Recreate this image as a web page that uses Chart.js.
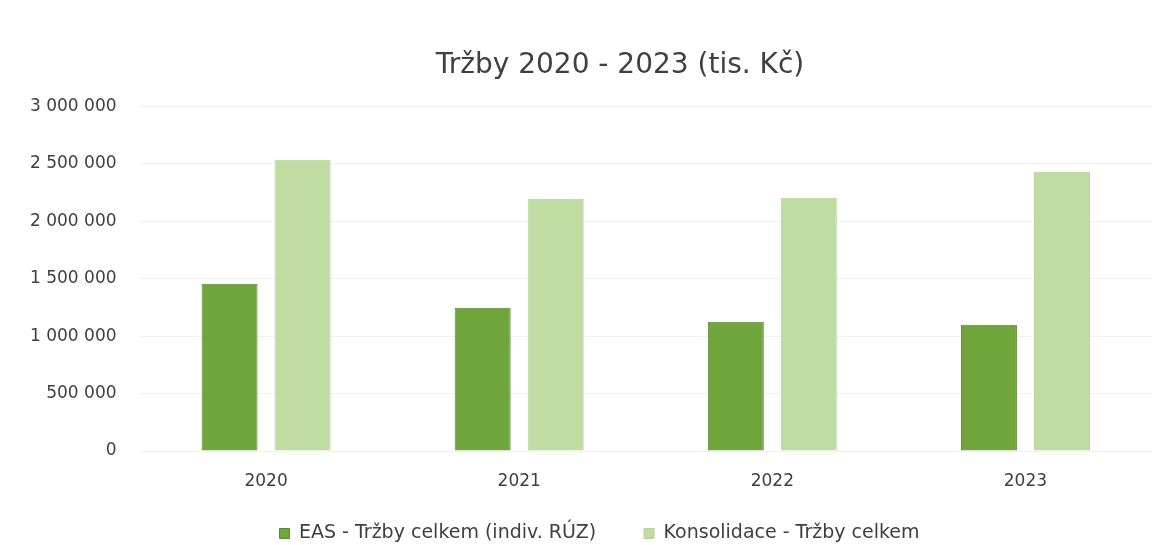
<!DOCTYPE html>
<html>
<head>
<meta charset="utf-8">
<script src="https://cdn.jsdelivr.net/npm/chart.js@4"></script>
<style>
  html, body { margin: 0; padding: 0; background: #fff; }
  #wrap { width: 1169px; height: 545px; }
</style>
</head>
<body>
<div id="wrap"><canvas id="chart" width="1169" height="545"></canvas></div>
<script>
const years = ['2020', '2021', '2022', '2023'];
const easRevenue = [1456000, 1247000, 1125000, 1099000];
const consolidatedRevenue = [2538000, 2198000, 2206000, 2433000];
const seriesNames = ['EAS - Tržby celkem (indiv. RÚZ)', 'Konsolidace - Tržby celkem'];

// thousands with plain spaces, like the original axis
const fmt = v => String(v).replace(/\B(?=(\d{3})+(?!\d))/g, ' ');
const font = 'DejaVu Sans';

// title and legend sit a bit right of the canvas centre; the legend keeps a wide
// gap between items but only a thin strip of height near the bottom edge
const nudge = {
    id: 'nudge',
    beforeInit(chart) {
        const legend = chart.legend;
        const fit = legend.fit;
        legend.fit = function () {
            fit.call(this);
            this.height -= 31;
        };
    },
    afterLayout(chart) {
        chart.titleBlock.left += 81;
        chart.legend.left += 40;
        chart.legend.top -= 23;
    }
};

new Chart(document.getElementById('chart'), {
    type: 'bar',
    data: {
        labels: years,
        datasets: [
            {
                label: seriesNames[0],
                data: easRevenue,
                backgroundColor: '#70a53c',
                borderColor: '#5a8730',
                borderWidth: 1
            },
            {
                label: seriesNames[1],
                data: consolidatedRevenue,
                backgroundColor: '#bfdca2',
                borderColor: '#b4d296',
                borderWidth: 1
            }
        ]
    },
    options: {
        responsive: false,
        animation: false,
        datasets: {
            bar: { categoryPercentage: 0.577, barPercentage: 0.767 }
        },
        layout: { padding: { left: 7, right: 17, top: 49, bottom: 0 } },
        plugins: {
            title: {
                display: true,
                text: 'Tržby 2020 - 2023 (tis. Kč)',
                color: '#404040',
                font: { family: font, size: 28, weight: 'normal' },
                padding: { top: 0, bottom: 24 }
            },
            legend: {
                position: 'bottom',
                labels: {
                    color: '#404040',
                    font: { family: font, size: 19 },
                    boxWidth: 10,
                    boxHeight: 10,
                    padding: 48
                }
            },
            tooltip: { enabled: false }
        },
        scales: {
            x: {
                afterFit: s => { s.height = 48; },
                grid: { display: false },
                border: { display: false },
                ticks: {
                    color: '#404040',
                    font: { family: font, size: 17 },
                    padding: 12
                }
            },
            y: {
                min: 0,
                max: 3000000,
                grid: { color: '#f0f0f0', drawTicks: false },
                border: { display: false },
                ticks: {
                    stepSize: 500000,
                    color: '#404040',
                    font: { family: font, size: 17 },
                    padding: 23,
                    callback: v => fmt(v)
                }
            }
        }
    },
    plugins: [nudge]
});
</script>
</body>
</html>
